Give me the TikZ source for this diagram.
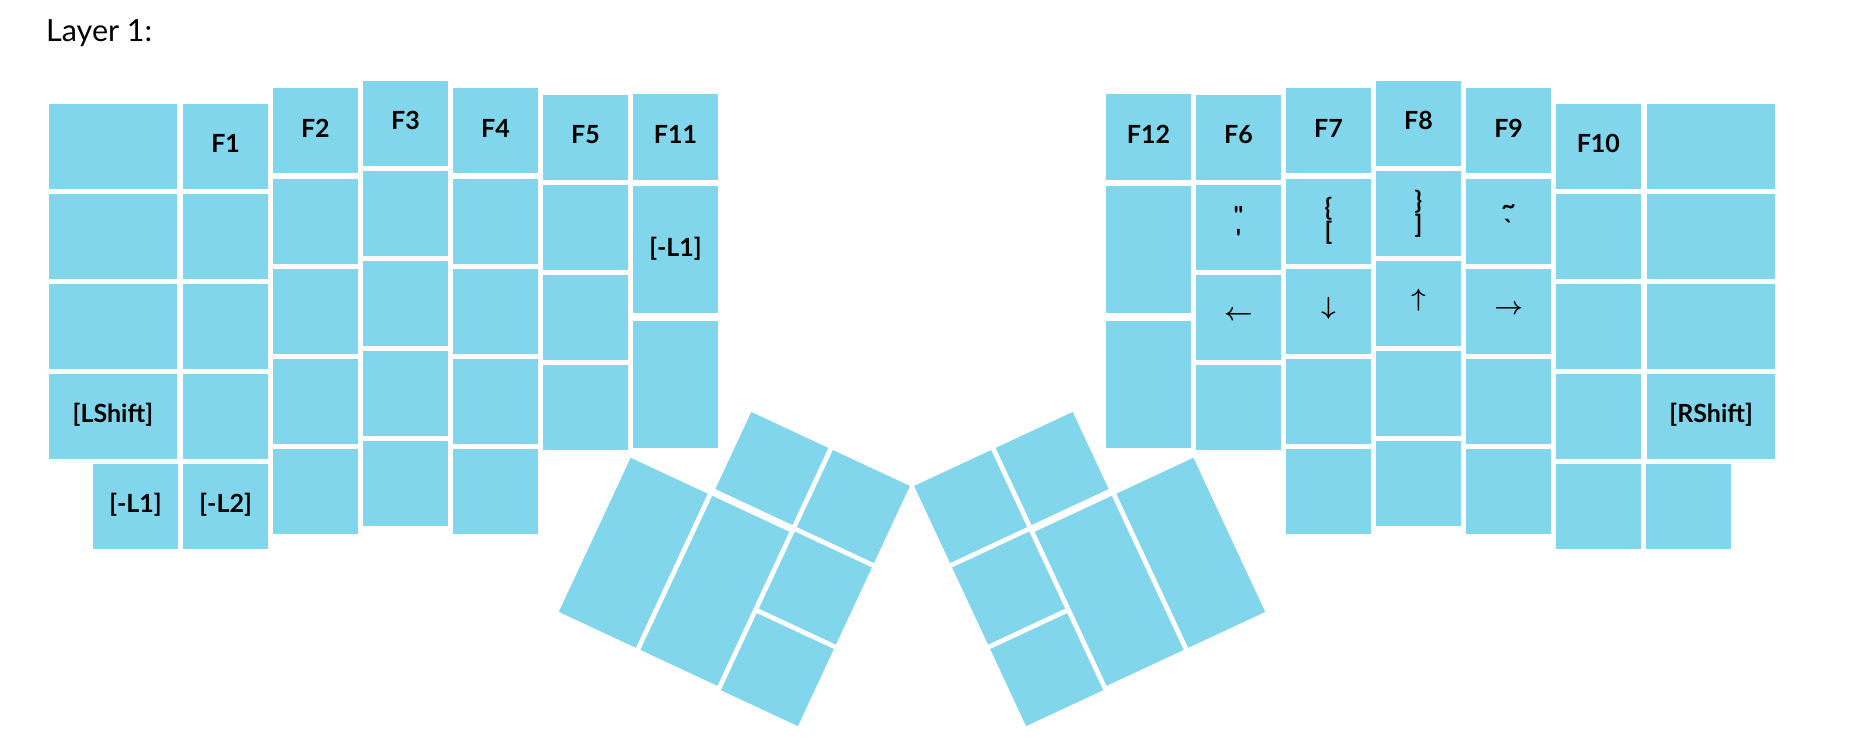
\documentclass[tikz,border=0pt]{standalone}
\usepackage{fontspec}
\newfontfamily\keyfont{Lato}
\newfontfamily\titlefont{Lato}
\definecolor{keyblue}{RGB}{130,214,235}
\begin{document}
\begin{tikzpicture}[x=1pt,y=-1pt,
  key/.style={fill=keyblue, inner sep=0pt, outer sep=0pt, minimum width=85pt, minimum height=85pt,
    font=\keyfont\bfseries\fontsize{25}{23}\selectfont, align=center, text=black},
  lbl/.style={text height=18pt, text depth=5pt},
  arr/.style={text height=12pt, text depth=6pt, font=\fontsize{23}{23}\selectfont\boldmath},
  wide/.style={key, minimum width=127.7pt},
  tall/.style={key, minimum height=127.3pt},
  ltk/.style={key, rotate=-25},
  rtk/.style={key, rotate=25},
]
\useasboundingbox (0,0) rectangle (1869,749);
\node[anchor=base west, inner sep=0pt, font=\titlefont\fontsize{30.5}{30.5}\selectfont] (title) at (46,41.7) {Layer 1:};

% ---------- left hand ----------
\node[wide] (l0a) at (112.85,146.2) {};
\node[wide] (l0b) at (112.85,236.2) {};
\node[wide] (l0c) at (112.85,326.2) {};
\node[wide,lbl] (l0d) at (112.85,416.2) {[LShift]};
\node[key,lbl] (lbx) at (135.5,506.2) {[-L1]};

\node[key,lbl] (l1a) at (225.6,146.2) {F1};
\node[key] (l1b) at (225.6,236.2) {};
\node[key] (l1c) at (225.6,326.2) {};
\node[key] (l1d) at (225.6,416.2) {};
\node[key,lbl] (l1e) at (225.6,506.2) {[-L2]};

\node[key,lbl] (l2a) at (315.4,131) {F2};
\node[key] (l2b) at (315.4,221) {};
\node[key] (l2c) at (315.4,311) {};
\node[key] (l2d) at (315.4,401) {};
\node[key] (l2e) at (315.4,491) {};

\node[key,lbl] (l3a) at (405.5,123.5) {F3};
\node[key] (l3b) at (405.5,213.5) {};
\node[key] (l3c) at (405.5,303.5) {};
\node[key] (l3d) at (405.5,393.5) {};
\node[key] (l3e) at (405.5,483.5) {};

\node[key,lbl] (l4a) at (495.5,131) {F4};
\node[key] (l4b) at (495.5,221) {};
\node[key] (l4c) at (495.5,311) {};
\node[key] (l4d) at (495.5,401) {};
\node[key] (l4e) at (495.5,491) {};

\node[key,lbl] (l5a) at (585.5,137.2) {F5};
\node[key] (l5b) at (585.5,227.2) {};
\node[key] (l5c) at (585.5,317.2) {};
\node[key] (l5d) at (585.5,407.2) {};

\node[key,lbl] (l6a) at (675.5,137) {F11};
\node[tall,lbl] (l6b) at (675.5,249.7) {[-L1]};
\node[tall] (l6c) at (675.5,384.7) {};

% left thumb cluster
\node[ltk] (lt1) at (771.86,468.48) {};
\node[ltk] (lt2) at (853.42,506.52) {};
\node[ltk, minimum height=170pt] (lt3) at (633.24,552.8) {};
\node[ltk, minimum height=170pt] (lt4) at (714.81,590.83) {};
\node[ltk] (lt5) at (815.39,588.07) {};
\node[ltk] (lt6) at (777.35,669.64) {};

% ---------- right hand ----------
\node[key,lbl] (r6a) at (1148.5,137) {F12};
\node[tall] (r6b) at (1148.5,249.7) {};
\node[tall] (r6c) at (1148.5,384.7) {};

\node[key,lbl] (r5a) at (1238.5,137.2) {F6};
\node[key] (r5b) at (1238.5,227.2) {"\\\textquotesingle};
\node[key,arr] (r5c) at (1238.5,317.2) {$\leftarrow$};
\node[key] (r5d) at (1238.5,407.2) {};

\node[key,lbl] (r4a) at (1328.5,131) {F7};
\node[key] (r4b) at (1328.5,221) {\{\\{[}};
\node[key,arr] (r4c) at (1328.5,311) {$\downarrow$};
\node[key] (r4d) at (1328.5,401) {};
\node[key] (r4e) at (1328.5,491) {};

\node[key,lbl] (r3a) at (1418.5,123.5) {F8};
\node[key] (r3b) at (1418.5,213.5) {\}\\{]}};
\node[key,arr] (r3c) at (1418.5,303.5) {$\uparrow$};
\node[key] (r3d) at (1418.5,393.5) {};
\node[key] (r3e) at (1418.5,483.5) {};

\node[key,lbl] (r2a) at (1508.6,131) {F9};
\node[key] (r2b) at (1508.6,221) {\textasciitilde\\\textasciigrave};
\node[key,arr] (r2c) at (1508.6,311) {$\rightarrow$};
\node[key] (r2d) at (1508.6,401) {};
\node[key] (r2e) at (1508.6,491) {};

\node[key,lbl] (r1a) at (1598.4,146.2) {F10};
\node[key] (r1b) at (1598.4,236.2) {};
\node[key] (r1c) at (1598.4,326.2) {};
\node[key] (r1d) at (1598.4,416.2) {};
\node[key] (r1e) at (1598.4,506.2) {};

\node[wide] (r0a) at (1711.15,146.2) {};
\node[wide] (r0b) at (1711.15,236.2) {};
\node[wide] (r0c) at (1711.15,326.2) {};
\node[wide,lbl] (r0d) at (1711.15,416.2) {[RShift]};
\node[key] (rbx) at (1688.5,506.2) {};

% right thumb cluster
\node[rtk] (rt1) at (1052.14,468.48) {};
\node[rtk] (rt2) at (970.58,506.52) {};
\node[rtk, minimum height=170pt] (rt3) at (1190.76,552.8) {};
\node[rtk, minimum height=170pt] (rt4) at (1109.19,590.83) {};
\node[rtk] (rt5) at (1008.61,588.07) {};
\node[rtk] (rt6) at (1046.65,669.64) {};
\end{tikzpicture}
\end{document}
